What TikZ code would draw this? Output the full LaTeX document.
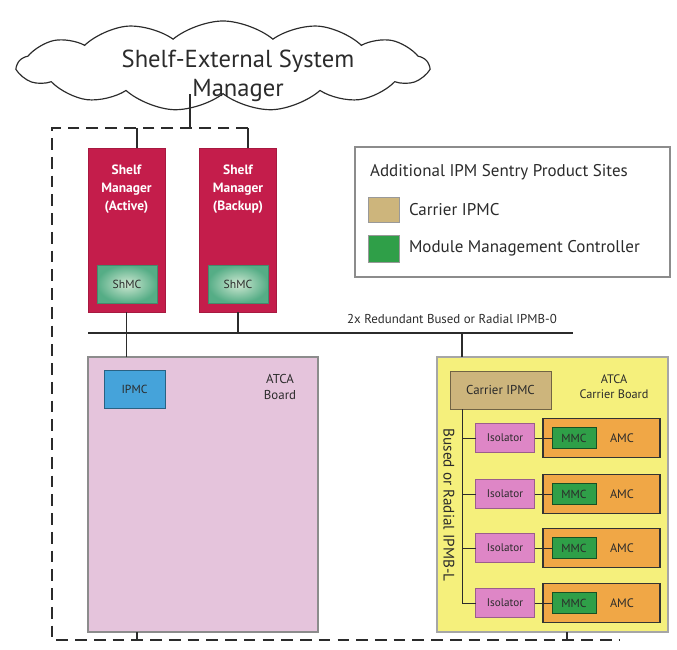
\documentclass[tikz,border=0pt]{standalone}
\usepackage{fontspec}
\setmainfont{PT Sans}
\usepackage{tikz}
\usetikzlibrary{calc,shapes.symbols}
\definecolor{ink}{HTML}{2B2B2B}
\definecolor{shm}{HTML}{C41D4B}
\definecolor{shmin}{HTML}{CFE8D2}
\definecolor{shmout}{HTML}{55AD86}
\definecolor{board}{HTML}{E5C4DC}
\definecolor{ipmc}{HTML}{45A3DA}
\definecolor{carr}{HTML}{F5F07C}
\definecolor{tan}{HTML}{CDB57C}
\definecolor{iso}{HTML}{DE86C6}
\definecolor{amc}{HTML}{F0A746}
\definecolor{mmc}{HTML}{2F9F48}
\tikzset{
  sz/.style 2 args={minimum width=#1*0.03cm, minimum height=#2*0.03cm},
  box/.style={rectangle, inner sep=0pt, outer sep=0pt, text=ink},
  wire/.style={draw=ink, line width=1.6pt},
  thin/.style={draw=ink, line width=0.8pt},
  frame/.style={draw=ink, line width=2pt, dash pattern=on 10pt off 6pt},
  mgr/.style={box, fill=shm, draw=shm!85!black, line width=0.6pt, sz={77}{164}},
  mgrtxt/.style={text=white, font=\bfseries\fontsize{11.5}{15.5}\selectfont, align=center, below=11pt},
  shmc/.style={box, inner color=shmin, outer color=shmout, draw=shmout!80!black,
    line width=0.4pt, sz={60}{38}, font=\fontsize{10}{11}\selectfont},
  lab/.style={text=ink, font=\fontsize{10.5}{12.5}\selectfont, align=center},
  leg/.style={text=ink, font=\fontsize{14.5}{17}\selectfont, anchor=west},
}
\begin{document}
\begin{tikzpicture}[x=0.03cm, y=-0.03cm]
  \useasboundingbox (0,0) rectangle (677,650);

  % external manager
  \node[cloud, cloud puffs=13, cloud puff arc=80, cloud ignores aspect, draw=ink, line width=1pt,
    sz={410}{90}, inner sep=0pt] (sesm) at (223,66) {};
  \node[text=ink, font=\fontsize{21}{25}\selectfont, align=center] (sesmtxt)
    at (238,76) {Shelf-External System\\Manager};

  % shelf frame
  \coordinate (fTL) at (52,128);
  \coordinate (fTR) at (248,128);
  \coordinate (fBL) at (52,640);
  \coordinate (fBR) at (620,640);
  \draw[frame] (fTR) -- (fTL) -- (fBL) -- (fBR);
  \coordinate (tap) at (190,128);
  \draw[wire] (tap) -- (tap |- sesm.south);

  % shelf managers
  \node[mgr] (smA) at (126.5,230) {};
  \node[mgr] (smB) at (238,230) {};
  \node[mgrtxt] (smAtxt) at (smA.north) {Shelf\\Manager\\(Active)};
  \node[mgrtxt] (smBtxt) at (smB.north) {Shelf\\Manager\\(Backup)};
  \node[shmc] (shmcA) at (127,284) {ShMC};
  \node[shmc] (shmcB) at (238,284) {ShMC};
  \coordinate (tapA) at (137,128);
  \draw[wire] (tapA) -- (tapA |- smA.north);
  \draw[wire] (fTR) -- (fTR |- smB.north);

  % IPMB-0
  \coordinate (busW) at (88,333);
  \coordinate (busE) at (573,333);
  \draw[wire] (busW) -- (busE);
  \node[lab, font=\fontsize{11}{12}\selectfont, anchor=south] (buslab)
    at (452,328) {2x Redundant Bused or Radial IPMB-0};
  \draw[wire] (smA.south) -- (smA.south |- busW);
  \draw[wire] (smB.south) -- (smB.south |- busW);

  % ATCA board
  \node[box, fill=board, draw=black!45, line width=1pt, sz={230}{275}] (atca) at (203,494.5) {};
  \node[box, fill=ipmc, draw=ipmc!60!black, line width=0.8pt, sz={61}{38},
    font=\fontsize{10}{11}\selectfont] (ipmcA) at (134.5,389) {IPMC};
  \node[lab, font=\fontsize{11}{13}\selectfont] (atcalab) at (280,387) {ATCA\\Board};
  \draw[wire] (smA.south |- busW) -- (smA.south |- atca.north);

  % ATCA carrier board
  \node[box, fill=carr, draw=black!35, line width=1pt, sz={231}{275}] (carrier) at (552.5,494.5) {};
  \node[box, fill=tan, draw=tan!55!black, line width=0.8pt, sz={101}{38},
    font=\fontsize{11}{12}\selectfont] (cipmc) at (500.5,390) {Carrier IPMC};
  \node[lab] (carrlab) at (614,387) {ATCA\\Carrier Board};
  \coordinate (tapC) at (462,333);
  \draw[wire] (tapC) -- (tapC |- carrier.north);
  \coordinate (lTop) at ($(cipmc.south west)+(12,0)$);
  \node[lab, font=\fontsize{13}{15}\selectfont, rotate=-90] (ipmbl) at (449,505) {Bused or Radial IPMB-L};
  \foreach \i/\y in {1/438,2/494,3/548,4/603} {
    \node[box, fill=amc, draw=black!80, line width=1.5pt, sz={117}{39}] (amc\i) at (601.5,\y) {};
    \node[box, fill=mmc, draw=mmc!50!black, line width=0.8pt, sz={44}{21},
      font=\fontsize{10}{11}\selectfont] (mmc\i) at (574,\y) {MMC};
    \node[lab] (amclab\i) at (622,\y) {AMC};
    \node[box, fill=iso, draw=iso!70!black, line width=0.6pt, sz={59}{29},
      font=\fontsize{9.5}{10}\selectfont] (iso\i) at (505,\y) {Isolator};
    \draw[thin] (lTop) |- (iso\i.west);
    \draw[thin] (iso\i.east) -- (mmc\i.west);
  }

  % to the lower shelf
  \coordinate (tapD) at (137,640);
  \coordinate (tapE) at (567,640);
  \draw[wire] (tapD) -- (tapD |- atca.south);
  \draw[wire] (tapE) -- (tapE |- carrier.south);

  % legend
  \node[box, draw=black!45, line width=1pt, sz={315}{130}] (legend) at (512.5,212) {};
  \node[leg] (legtitle) at (366,172) {Additional IPM Sentry Product Sites};
  \node[box, fill=tan, draw=black!40, line width=0.6pt, sz={31}{25}] (legtan) at (383.5,210) {};
  \node[box, fill=mmc, draw=black!40, line width=0.6pt, sz={31}{27}] (leggreen) at (383.5,248.5) {};
  \node[leg, right=5pt] (legtantxt) at (legtan.east) {Carrier IPMC};
  \node[leg, right=5pt] (leggreentxt) at (leggreen.east) {Module Management Controller};
\end{tikzpicture}
\end{document}
